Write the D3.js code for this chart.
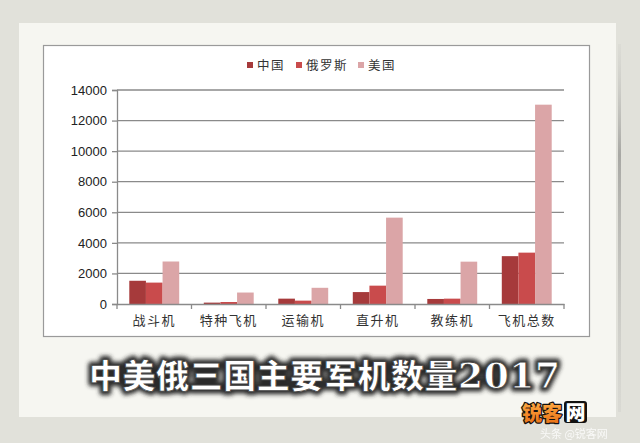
<!DOCTYPE html>
<html><head><meta charset="utf-8">
<script src="https://cdn.jsdelivr.net/npm/d3@7"></script>
<style>
html,body{margin:0;padding:0;background:#e1e1da;}
svg{display:block;}
</style></head>
<body>
<script>
const categories = ["战斗机","特种飞机","运输机","直升机","教练机","飞机总数"];
const seriesNames = ["中国","俄罗斯","美国"];
const chinaValues = [1520, 90, 350, 780, 330, 3130];
const russiaValues = [1400, 130, 220, 1200, 350, 3360];
const usValues = [2780, 750, 1060, 5650, 2770, 13040];
const yTicks = [0,2000,4000,6000,8000,10000,12000,14000];
const colors = ["#a63a3b","#c94b4c","#dba5a7"];
const titleText = "中美俄三国主要军机数量";
const titleYear = "2017";

const W=640,H=443;
const svg=d3.select("body").append("svg").attr("width",W).attr("height",H);
const defs=svg.append("defs");
const f=defs.append("filter").attr("id","glow").attr("x","-10%").attr("y","-30%").attr("width","120%").attr("height","160%");
f.append("feGaussianBlur").attr("stdDeviation",2.2);
const g2=defs.append("linearGradient").attr("id","shadowR").attr("x1",0).attr("x2",0).attr("y1",0).attr("y2",1);
g2.append("stop").attr("offset","0%").attr("stop-color","#c8c8c4").attr("stop-opacity",0.2);
g2.append("stop").attr("offset","30%").attr("stop-color","#a8a8a4");
g2.append("stop").attr("offset","100%").attr("stop-color","#c8c8c4").attr("stop-opacity",0.3);
const og=defs.append("linearGradient").attr("id","orange").attr("x1",0).attr("x2",0).attr("y1",0).attr("y2",1);
og.append("stop").attr("offset","0%").attr("stop-color","#ffb24a");
og.append("stop").attr("offset","100%").attr("stop-color","#e86a10");

// background & paper
svg.append("rect").attr("width",W).attr("height",H).attr("fill","#e1e1da");
svg.append("rect").attr("x",618).attr("y",44).attr("width",3).attr("height",368).attr("fill","url(#shadowR)");
svg.append("rect").attr("x",19).attr("y",23).attr("width",597).attr("height",394).attr("fill","#f6f6f1");
// chart box
svg.append("rect").attr("x",43.5).attr("y",45.5).attr("width",546).attr("height",291)
  .attr("fill","#ffffff").attr("stroke","#9a9a9a").attr("stroke-width",1.2);

const x0=d3.scaleBand().domain(categories).range([117,564]).paddingInner(0.33).paddingOuter(0.165);
const x1=d3.scaleBand().domain(seriesNames).range([0,x0.bandwidth()]);
const y=d3.scaleLinear().domain([0,14000]).range([304,90]);

// gridlines
svg.append("g").selectAll("line").data(yTicks.filter(d=>d>0)).join("line")
  .attr("x1",117).attr("x2",564).attr("y1",d=>y(d)).attr("y2",d=>y(d))
  .attr("stroke","#8a8a8a").attr("stroke-width",1.3);

// y axis
const ya=svg.append("g").attr("transform","translate(117,0)")
  .call(d3.axisLeft(y).tickValues(yTicks).tickSize(5).tickPadding(5).tickFormat(d3.format("d")));
ya.select(".domain").attr("stroke","#8a8a8a").attr("stroke-width",1.3);
ya.selectAll(".tick line").attr("stroke","#8a8a8a").attr("stroke-width",1.3);
ya.selectAll("text").attr("font-family","Liberation Sans, Arial, sans-serif").attr("font-size",13).attr("fill","#222");

// bars
const data=categories.map((c,i)=>({cat:c,vals:[chinaValues[i],russiaValues[i],usValues[i]]}));
svg.append("g").selectAll("g").data(data).join("g")
  .attr("transform",d=>`translate(${x0(d.cat)},0)`)
  .selectAll("rect").data(d=>d.vals.map((v,k)=>({name:seriesNames[k],v,k}))).join("rect")
  .attr("x",d=>x1(d.name)).attr("width",x1.bandwidth())
  .attr("y",d=>y(d.v)).attr("height",d=>y(0)-y(d.v)).attr("fill",d=>colors[d.k]);

// x axis
const xa=svg.append("g").attr("transform","translate(0,304)")
  .call(d3.axisBottom(x0).tickSize(0).tickPadding(12));
xa.select(".domain").attr("stroke","#8a8a8a").attr("stroke-width",1.3);
xa.selectAll("text").attr("font-family","Noto Sans CJK SC, sans-serif").attr("font-size",13).attr("fill","#333").attr("letter-spacing","1.5px");
const bounds=[0,1,2,3,4,5,6].map(i=>117+i*x0.step());
svg.append("g").selectAll("line").data(bounds).join("line")
  .attr("x1",d=>d).attr("x2",d=>d).attr("y1",304).attr("y2",309)
  .attr("stroke","#8a8a8a").attr("stroke-width",1.3);

// legend
const legX=[247,296,358];
const lg=svg.append("g");
seriesNames.forEach((n,i)=>{
  lg.append("rect").attr("x",legX[i]).attr("y",62).attr("width",6).attr("height",6).attr("fill",colors[i]);
  lg.append("text").attr("x",legX[i]+10).attr("y",69.5).text(n)
    .attr("font-family","Noto Sans CJK SC, sans-serif").attr("font-size",12.5).attr("fill","#333").attr("letter-spacing","1.5px");
});

// title
function titleNode(parent){
  const t=parent.append("text").attr("x",89).attr("y",388)
    .attr("font-family","Noto Sans CJK SC, sans-serif").attr("font-weight",900).attr("font-size",33)
    .attr("textLength",471).attr("lengthAdjust","spacing");
  t.append("tspan").text(titleText);
  t.append("tspan").attr("font-family","DejaVu Serif, Liberation Serif, serif").attr("font-weight","bold").attr("font-size",36).text(titleYear);
  return t;
}
titleNode(svg).attr("fill","#2a2a2a").attr("stroke","#2a2a2a").attr("stroke-width",7).attr("stroke-linejoin","round").attr("filter","url(#glow)");
titleNode(svg).attr("fill","#ffffff").attr("stroke","#444").attr("stroke-width",0.8);

// watermarks
svg.append("text").attr("x",540).attr("y",438).text("头条 @锐客网")
  .attr("font-family","Noto Sans CJK SC, sans-serif").attr("font-size",11).attr("fill","#ffffff").attr("opacity",0.8);
const wm=svg.append("text").attr("x",522).attr("y",421)
  .attr("font-family","Noto Sans CJK SC, sans-serif").attr("font-weight",900).attr("font-size",20)
  .attr("stroke","#111").attr("stroke-width",2.5).attr("paint-order","stroke").attr("stroke-linejoin","round");
wm.append("tspan").attr("fill","url(#orange)").text("锐客");
svg.append("rect").attr("x",564).attr("y",401).attr("width",23).attr("height",22).attr("rx",3).attr("fill","#111");
svg.append("text").attr("x",565.5).attr("y",420).text("网")
  .attr("font-family","Noto Sans CJK SC, sans-serif").attr("font-weight",900).attr("font-size",20).attr("fill","#fff");
</script>
</body></html>
